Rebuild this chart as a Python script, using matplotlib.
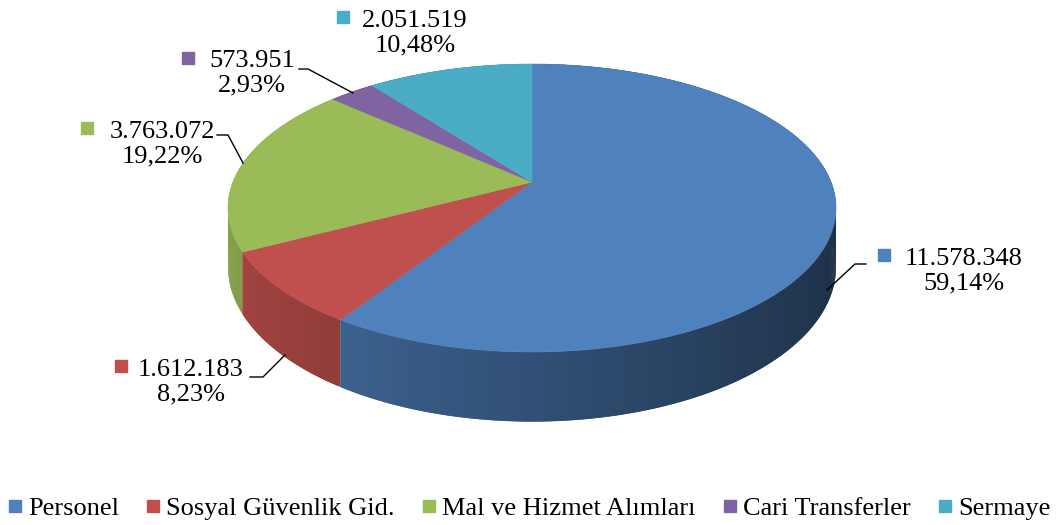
import matplotlib.pyplot as plt
import numpy as np
from matplotlib.lines import Line2D
from matplotlib.colors import to_rgb

# data
categories = ['Personel', 'Sosyal Güvenlik Gid.', 'Mal ve Hizmet Alımları',
              'Cari Transferler', 'Sermaye']
values = [11578348, 1612183, 3763072, 573951, 2051519]
colors = ['#4F81BD', '#C0504D', '#9BBB59', '#8064A2', '#4BACC6']

# label layout (pixel coords): text center, marker, leader line
label_pos = [(964, 271), (191, 382), (162, 144), (252, 73), (415, 33)]
marker_pos = [(884, 255), (121, 366), (87, 128), (188, 58), (343, 17)]
leaders = [
    [(866, 264), (855, 264), (827, 290)],
    [(250, 377), (263, 377), (285, 355)],
    [(217, 135), (228, 135), (243, 163)],
    [(299, 69), (308, 69), (353, 93)],
    None,
]

plt.rcParams['font.family'] = ['Liberation Serif', 'DejaVu Serif']

# pie geometry (pixels), simple perspective
cx, cy = 532, 182
R, A, K, DEPTH = 299, 139.3, 0.1806, 57
STEP = 0.01


def proj(phi):
    u, v = np.cos(phi), np.sin(phi)
    s = 1.0 / (1 + K * v)
    return cx + R * u * s, cy - A * v * s, DEPTH * s


def fmt_int(n):
    return f"{n:,}".replace(',', '.')


def main():
    fig = plt.figure(figsize=(10.59, 5.25), dpi=100)
    ax = fig.add_axes([0, 0, 1, 1])
    ax.set_xlim(0, 1059)
    ax.set_ylim(525, 0)
    ax.axis('off')

    vals = np.array(values, dtype=float)
    fracs = vals / vals.sum()
    starts = np.pi / 2 - 2 * np.pi * np.concatenate([[0], np.cumsum(fracs)[:-1]])
    ends = starts - 2 * np.pi * fracs

    # side segments, back to front; each overlaps the next to hide seams
    segs = []
    for i, (a0, a1) in enumerate(zip(starts, ends)):
        n = max(int(abs(a1 - a0) / STEP), 2)
        ph = np.linspace(a0, a1, n + 1)
        for j in range(n):
            p0 = ph[j]
            p1 = ph[min(j + 2, n)]
            pm = (ph[j] + ph[j + 1]) / 2
            segs.append((np.sin(pm), i, p0, p1, pm))
    segs.sort(key=lambda t: -t[0])
    for _, i, p0, p1, pm in segs:
        pp = np.linspace(p0, p1, 4)
        xs, ys, ds = proj(pp)
        f = 0.62 - 0.25 * np.cos(pm)
        c = tuple(np.clip(np.array(to_rgb(colors[i])) * f, 0, 1))
        ax.fill(np.concatenate([xs, xs[::-1]]),
                np.concatenate([ys, (ys + ds)[::-1]]),
                color=c, lw=0, zorder=1)

    # top faces
    for i, (a0, a1) in enumerate(zip(starts, ends)):
        ph = np.linspace(a0, a1, 200)
        xs, ys, _ = proj(ph)
        ax.fill(np.concatenate([[cx], xs]), np.concatenate([[cy], ys]),
                color=colors[i], ec=colors[i], lw=0.4, zorder=2)

    # data labels
    for i in range(len(values)):
        pct = f"{fracs[i] * 100:.2f}%".replace('.', ',')
        tx, ty = label_pos[i]
        ax.text(tx, ty, f"{fmt_int(values[i])}\n{pct}", ha='center', va='center',
                fontsize=19, multialignment='center', linespacing=1.15, zorder=5)
        mx, my = marker_pos[i]
        ax.plot(mx, my, marker='s', ms=8.5, color=colors[i], mec=colors[i], zorder=5)
        if leaders[i]:
            lx, ly = zip(*leaders[i])
            ax.plot(lx, ly, color='black', lw=1.0, zorder=5)

    handles = [Line2D([], [], ls='', marker='s', ms=8.5, color=c) for c in colors]
    fig.legend(handles, categories, loc='center', bbox_to_anchor=(0.5, 1 - 508 / 525),
               ncol=5, frameon=False, fontsize=19, handlelength=0.5,
               handletextpad=0.25, columnspacing=1.05, borderaxespad=0)

    fig.savefig('out.png', dpi=100)


if __name__ == "__main__":
    main()
